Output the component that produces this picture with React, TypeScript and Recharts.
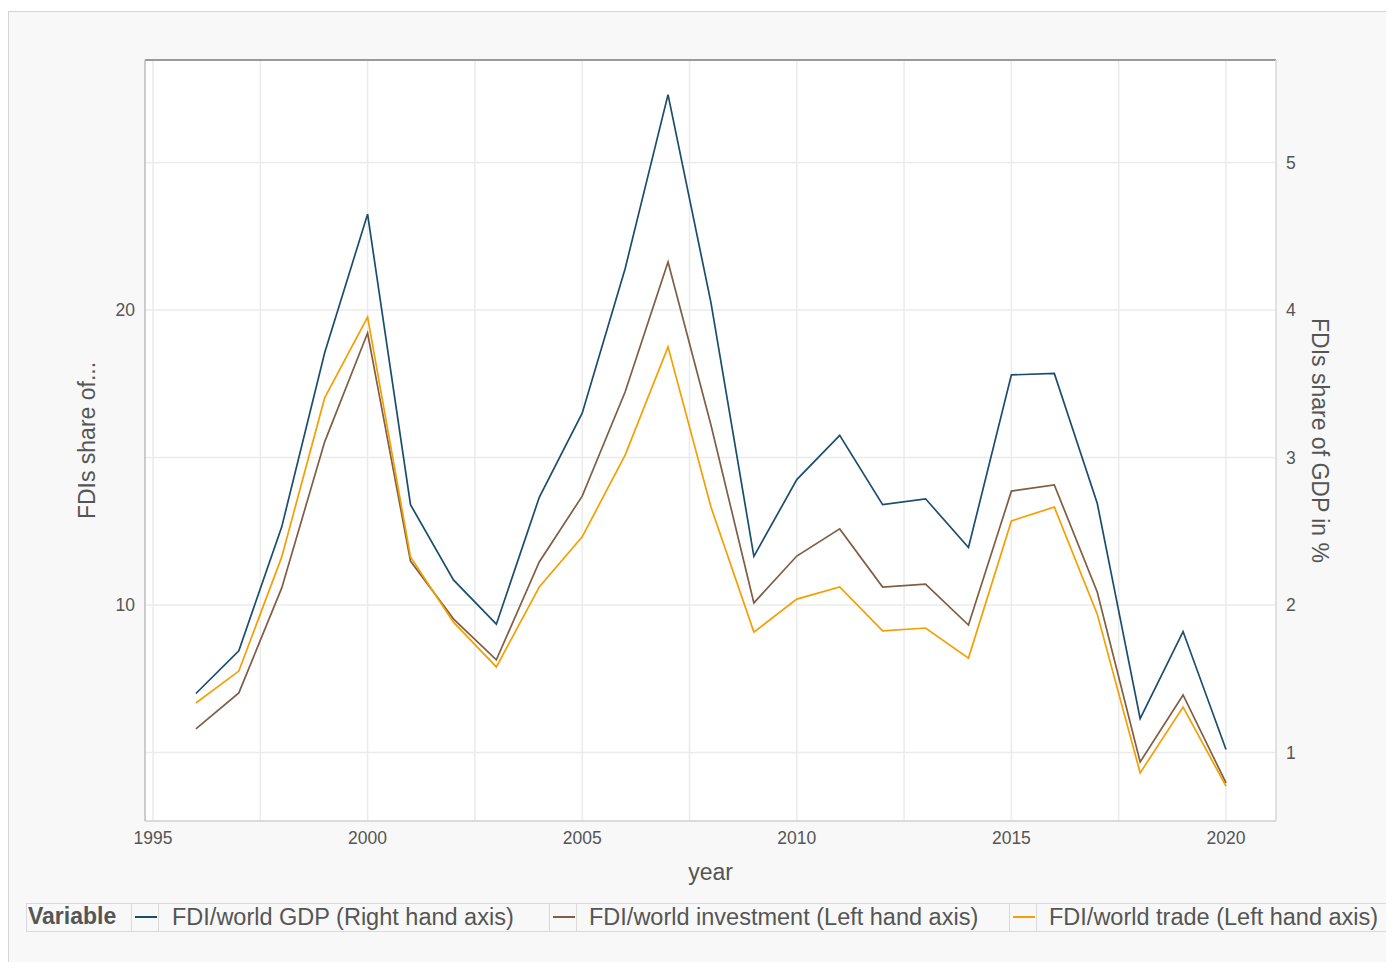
import React from "react";
import {
  LineChart,
  Line,
  XAxis,
  YAxis,
  CartesianGrid,
  ReferenceLine,
  Legend,
} from "recharts";

const years = [
  1996, 1997, 1998, 1999, 2000, 2001, 2002, 2003, 2004, 2005, 2006, 2007, 2008,
  2009, 2010, 2011, 2012, 2013, 2014, 2015, 2016, 2017, 2018, 2019, 2020,
];
// FDI / world GDP (right hand axis, %)
const gdpShare = [
  1.4, 1.69, 2.53, 3.71, 4.65, 2.68, 2.17, 1.87, 2.73, 3.3, 4.28, 5.46, 4.05,
  2.33, 2.85, 3.15, 2.68, 2.72, 2.39, 3.56, 3.57, 2.69, 1.23, 1.82, 1.02,
];
// FDI / world investment (left hand axis)
const investmentShare = [
  5.8, 7.02, 10.58, 15.53, 19.22, 11.49, 9.53, 8.14, 11.46, 13.69, 17.22, 21.63,
  16.1, 10.07, 11.66, 12.58, 10.61, 10.71, 9.32, 13.86, 14.07, 10.44, 4.68, 6.95,
  3.97,
];
// FDI / world trade (left hand axis)
const tradeShare = [
  6.68, 7.76, 11.63, 17.02, 19.76, 11.63, 9.42, 7.9, 10.61, 12.31, 15.08, 18.75,
  13.32, 9.08, 10.2, 10.61, 9.12, 9.22, 8.2, 12.85, 13.32, 9.69, 4.31, 6.54,
  3.86,
];

const xTicks = [1995, 2000, 2005, 2010, 2015, 2020];
const xGrid = [1995, 1997.5, 2000, 2002.5, 2005, 2007.5, 2010, 2012.5, 2015, 2017.5, 2020];
const leftTicks = [10, 20];
const leftGrid = [5, 10, 15, 20, 25];
const rightTicks = [1, 2, 3, 4, 5];

const seriesNames = [
  "FDI/world GDP (Right hand axis)",
  "FDI/world investment (Left hand axis)",
  "FDI/world trade (Left hand axis)",
];
const seriesColors = ["#1b4e6c", "#7f5e43", "#f59f00"];

const data = years.map((y, i) => ({
  year: y,
  gdp: gdpShare[i],
  inv: investmentShare[i],
  trade: tradeShare[i],
}));

const FONT = "'Liberation Sans', Arial, sans-serif";
const X_DOMAIN = [1994.814, 2021.165];
const LEFT_DOMAIN = [2.678, 28.475];
const RIGHT_DOMAIN = [0.5356, 5.695];

const legendKeyPos = [
  { box: 104, text: 145 },
  { box: 522, text: 562 },
  { box: 982, text: 1022 },
];

const LegendContent = () => (
  <div
    style={{
      position: "relative",
      width: 1368,
      height: 29,
      borderTop: "1px solid #d9d9d9",
      borderBottom: "1px solid #d9d9d9",
      borderLeft: "1px solid #d9d9d9",
      boxSizing: "border-box",
      fontFamily: FONT,
      color: "#555",
      textAlign: "left",
    }}
  >
    <span
      style={{
        position: "absolute",
        left: 1,
        top: -1,
        fontSize: 23,
        fontWeight: "bold",
        lineHeight: "27px",
      }}
    >
      Variable
    </span>
    {seriesNames.map((n, i) => (
      <React.Fragment key={n}>
        <div
          style={{
            position: "absolute",
            left: legendKeyPos[i].box,
            top: 0,
            width: 28,
            height: 27,
            borderLeft: "1px solid #d9d9d9",
            borderRight: "1px solid #d9d9d9",
            boxSizing: "border-box",
          }}
        >
          <div
            style={{
              position: "absolute",
              left: 3,
              width: 22,
              top: 12,
              height: 2,
              background: seriesColors[i],
            }}
          />
        </div>
        <span
          style={{
            position: "absolute",
            left: legendKeyPos[i].text,
            top: -1,
            fontSize: 23.5,
            lineHeight: "29px",
            whiteSpace: "nowrap",
          }}
        >
          {n}
        </span>
      </React.Fragment>
    ))}
  </div>
);

export default function App() {
  return (
    <div
      style={{
        marginTop: 3,
        width: 1386,
        height: 951,
        background: "#f8f8f8",
        borderTop: "1px solid #d4d4d4",
        borderLeft: "1px solid #d4d4d4",
        boxSizing: "border-box",
        overflow: "hidden",
      }}
    >
      <LineChart
        width={1385}
        height={950}
        data={data}
        margin={{ top: 48, right: 30, bottom: 39, left: 20 }}
        style={{ fontFamily: FONT }}
      >
        <CartesianGrid
          yAxisId="left"
          fill="#ffffff"
          stroke="#ebebeb"
          strokeWidth={1.5}
          horizontalValues={leftGrid}
          verticalValues={xGrid}
        />
        <XAxis
          dataKey="year"
          type="number"
          domain={X_DOMAIN}
          allowDataOverflow
          ticks={xTicks}
          tickLine={false}
          tickMargin={5}
          axisLine={{ stroke: "#d0d0d0", strokeWidth: 1.5 }}
          tick={{ fill: "#555", fontSize: 17.5 }}
          height={102}
          label={{
            value: "year",
            position: "center",
            fill: "#555",
            fontSize: 23,
          }}
        />
        <YAxis
          yAxisId="left"
          orientation="left"
          domain={LEFT_DOMAIN}
          allowDataOverflow
          ticks={leftTicks}
          tickLine={false}
          tickMargin={4}
          axisLine={{ stroke: "#bdbdbd", strokeWidth: 1.5 }}
          tick={{ fill: "#555", fontSize: 17.5 }}
          width={116}
          label={{
            value: "FDIs share of...",
            angle: -90,
            position: "center",
            fill: "#555",
            fontSize: 23,
          }}
        />
        <YAxis
          yAxisId="right"
          orientation="right"
          domain={RIGHT_DOMAIN}
          allowDataOverflow
          ticks={rightTicks}
          tickLine={false}
          tickMargin={4}
          axisLine={{ stroke: "#d8d8d8", strokeWidth: 1.5 }}
          tick={{ fill: "#555", fontSize: 17.5 }}
          width={88}
          label={{
            value: "FDIs share of GDP in %",
            angle: 90,
            position: "center",
            fill: "#555",
            fontSize: 23,
          }}
        />
        <ReferenceLine
          yAxisId="left"
          y={LEFT_DOMAIN[1]}
          stroke="#9a9a9a"
          strokeWidth={2}
          ifOverflow="visible"
        />
        <Line
          yAxisId="right"
          type="linear"
          dataKey="gdp"
          name={seriesNames[0]}
          stroke={seriesColors[0]}
          strokeWidth={1.7}
          dot={false}
          isAnimationActive={false}
        />
        <Line
          yAxisId="left"
          type="linear"
          dataKey="inv"
          name={seriesNames[1]}
          stroke={seriesColors[1]}
          strokeWidth={1.7}
          dot={false}
          isAnimationActive={false}
        />
        <Line
          yAxisId="left"
          type="linear"
          dataKey="trade"
          name={seriesNames[2]}
          stroke={seriesColors[2]}
          strokeWidth={1.7}
          dot={false}
          isAnimationActive={false}
        />
        <Legend
          layout="horizontal"
          verticalAlign="middle"
          align="center"
          content={() => <LegendContent />}
          wrapperStyle={{ position: "absolute", left: 17, top: 891, width: 1368, height: 29 }}
        />
      </LineChart>
    </div>
  );
}
